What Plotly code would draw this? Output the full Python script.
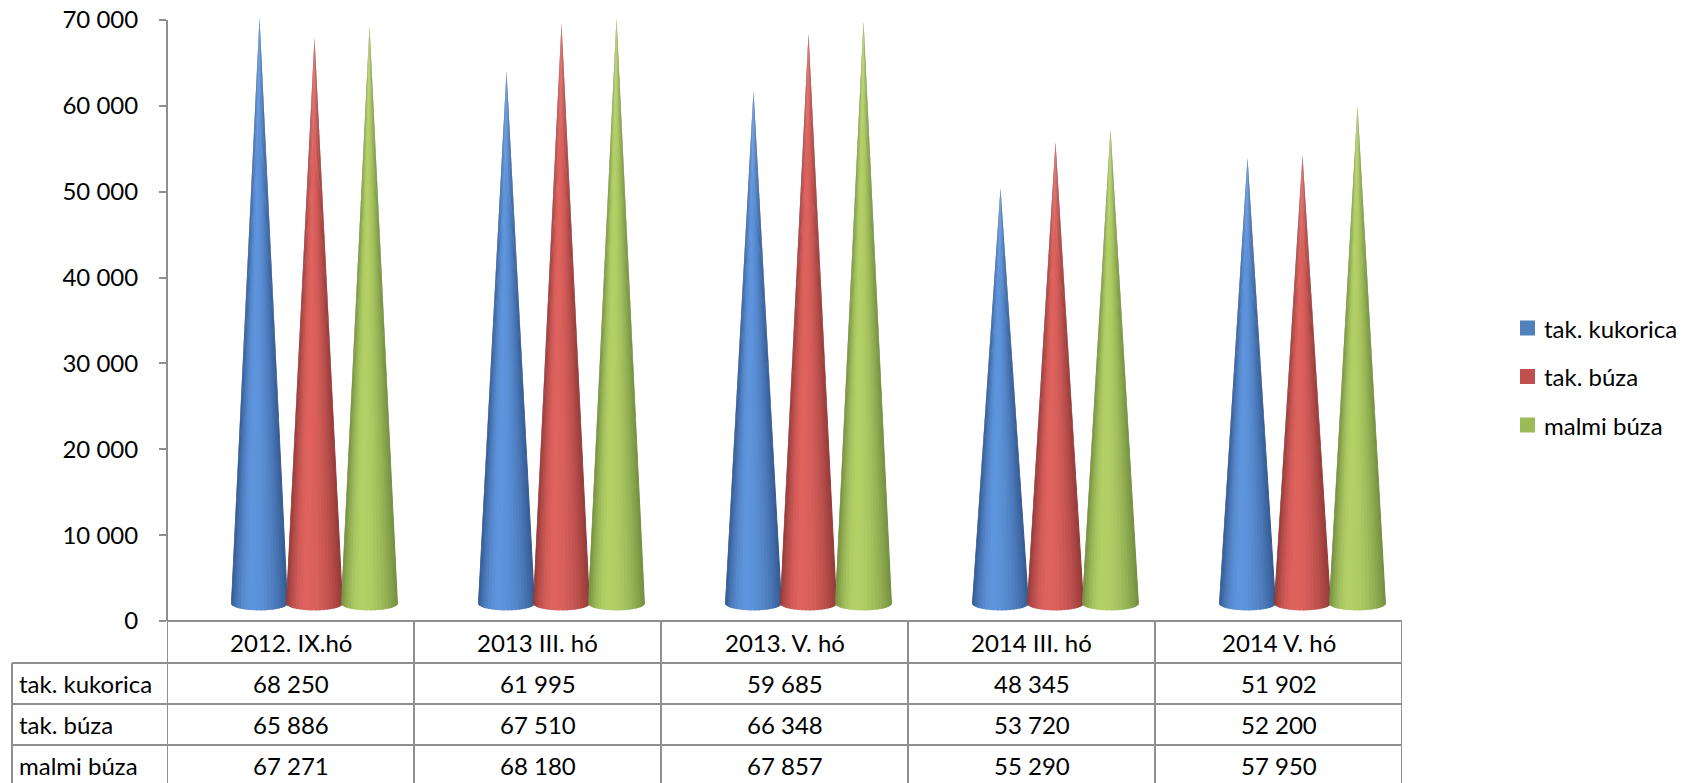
import numpy as np
import plotly.graph_objects as go

# ---------------- data ----------------
categories = ["2012. IX.hó", "2013 III. hó", "2013. V. hó", "2014 III. hó", "2014 V. hó"]
series_names = ["tak. kukorica", "tak. búza", "malmi búza"]
kukorica = [68250, 61995, 59685, 48345, 51902]
tak_buza = [65886, 67510, 66348, 53720, 52200]
malmi_buza = [67271, 68180, 67857, 55290, 57950]
series_values = [kukorica, tak_buza, malmi_buza]
y_tick_values = [0, 10000, 20000, 30000, 40000, 50000, 60000, 70000]
y_tick_labels = ["0", "10 000", "20 000", "30 000", "40 000", "50 000", "60 000", "70 000"]

# ---------------- style ----------------
W, H = 1694, 783
L, R_EDGE, T, B_EDGE = 167, 1402, 3, 621
PLOT_W = R_EDGE - L
PLOT_H = B_EDGE - T
YMAX = 70000 * PLOT_H / (B_EDGE - 20)

FONT = "Lato"
FS = 24
GRAY = "#8F8F8F"

base_colors = ["#4F81BD", "#C0504D", "#9BBB59"]
light_rgb = [(94, 148, 220), (222, 98, 94), (178, 208, 102)]
dark_rgb = [(50, 86, 140), (142, 56, 54), (112, 138, 62)]

SERIES_OFFSET = 55 / 247      # spacing of cones within a group (category units)
DEPTH_X = 24 / 247            # 3D depth shift (category units)
DEPTH_Y = 2050                # 3D floor shift (value units)
HALF_W = 28.5 / 247           # cone base half width (category units)
ELL = 7 * YMAX / PLOT_H       # base ellipse semi-minor (value units)
N_STRIPS = 22


def xp(px):
    return (px - L) / PLOT_W


def yp(py):
    return (B_EDGE - py) / PLOT_H


def shade(u):
    h = -0.3
    d = (h - u) / (1 + h) if u < h else (u - h) / (1 - h)
    s = np.cos(min(d, 1.0) * np.pi / 2) ** 0.8
    return s


def rgb_at(si, s):
    c = tuple(int(round(dark_rgb[si][k] + (light_rgb[si][k] - dark_rgb[si][k]) * s)) for k in range(3))
    return "rgb(%d,%d,%d)" % c


fig = go.Figure()

thetas = np.linspace(-np.pi / 2, np.pi / 2, N_STRIPS + 1)
step = thetas[1] - thetas[0]
for si, vals in enumerate(series_values):
    off = (si - 1) * SERIES_OFFSET + DEPTH_X
    for j in range(N_STRIPS):
        t0 = thetas[j]
        t1 = min(thetas[j + 1] + 0.6 * step, np.pi / 2)   # overlap next strip to hide seams
        u0, u1 = np.sin(t0), np.sin(t1)
        col = rgb_at(si, shade((np.sin(thetas[j]) + np.sin(thetas[j + 1])) / 2))
        xs, ys = [], []
        for i, v in enumerate(vals):
            cx = i + off
            xs += [cx, cx + u0 * HALF_W, cx + u1 * HALF_W, cx, None]
            ys += [DEPTH_Y + v, DEPTH_Y - ELL * np.cos(t0), DEPTH_Y - ELL * np.cos(t1), DEPTH_Y + v, None]
        fig.add_trace(go.Scatter(
            x=xs, y=ys, mode="lines", fill="toself", fillcolor=col,
            line=dict(width=0), hoverinfo="skip", showlegend=False,
        ))

shapes = []
line = dict(color=GRAY, width=2)
# y axis line
shapes.append(dict(type="line", xref="paper", yref="y", x0=0, x1=0, y0=0, y1=70000, line=line))
# table horizontal lines
shapes.append(dict(type="line", xref="paper", yref="paper", x0=xp(L), x1=xp(R_EDGE), y0=yp(621), y1=yp(621), line=line))
for py in [663, 704, 745, 786]:
    shapes.append(dict(type="line", xref="paper", yref="paper", x0=xp(12), x1=xp(R_EDGE), y0=yp(py), y1=yp(py), line=line))
# table vertical lines
shapes.append(dict(type="line", xref="paper", yref="paper", x0=xp(12), x1=xp(12), y0=yp(663), y1=yp(790), line=line))
for k in range(len(categories) + 1):
    shapes.append(dict(type="line", xref="x", yref="paper", x0=k - 0.5, x1=k - 0.5, y0=yp(621), y1=yp(790), line=line))

annotations = []
tf = dict(family=FONT, size=FS, color="black")
for i, cat in enumerate(categories):
    annotations.append(dict(x=i, y=yp(642), xref="x", yref="paper", text=cat, showarrow=False,
                            xanchor="center", yanchor="middle", font=tf))
row_centers = [683.5, 724.5, 765.5]
for si, name in enumerate(series_names):
    annotations.append(dict(x=xp(17), y=yp(row_centers[si]), xref="paper", yref="paper", text=name,
                            showarrow=False, xanchor="left", yanchor="middle", font=tf))
    for i, v in enumerate(series_values[si]):
        txt = "{:,}".format(v).replace(",", " ")
        annotations.append(dict(x=i, y=yp(row_centers[si]), xref="x", yref="paper", text=txt,
                                showarrow=False, xanchor="center", yanchor="middle", font=tf))

# legend (manual)
legend_y = [328, 376.5, 425]
for si, name in enumerate(series_names):
    shapes.append(dict(type="rect", xref="paper", yref="paper", x0=xp(1520), x1=xp(1535),
                       y0=yp(legend_y[si] - 7.5), y1=yp(legend_y[si] + 7.5),
                       fillcolor=base_colors[si], line=dict(width=0)))
    annotations.append(dict(x=xp(1542), y=yp(legend_y[si]), xref="paper", yref="paper", text=name,
                            showarrow=False, xanchor="left", yanchor="middle", font=tf))

fig.update_layout(
    width=W, height=H, autosize=False,
    margin=dict(l=L, r=W - R_EDGE, t=T, b=H - B_EDGE, pad=0),
    paper_bgcolor="white", plot_bgcolor="white",
    showlegend=False,
    xaxis=dict(range=[-0.5, len(categories) - 0.5], visible=False, fixedrange=True),
    yaxis=dict(range=[0, YMAX], tickvals=y_tick_values, ticktext=y_tick_labels,
               ticks="outside", ticklen=7, tickwidth=2, tickcolor=GRAY,
               showgrid=False, zeroline=False, showline=False, ticklabelstandoff=16,
               tickfont=dict(family=FONT, size=FS, color="black"), fixedrange=True),
    shapes=shapes, annotations=annotations,
)

fig.write_html(
    "out.html",
    config={"displayModeBar": False},
    post_script="document.body.style.margin='0px';document.body.style.overflow='hidden';",
)
